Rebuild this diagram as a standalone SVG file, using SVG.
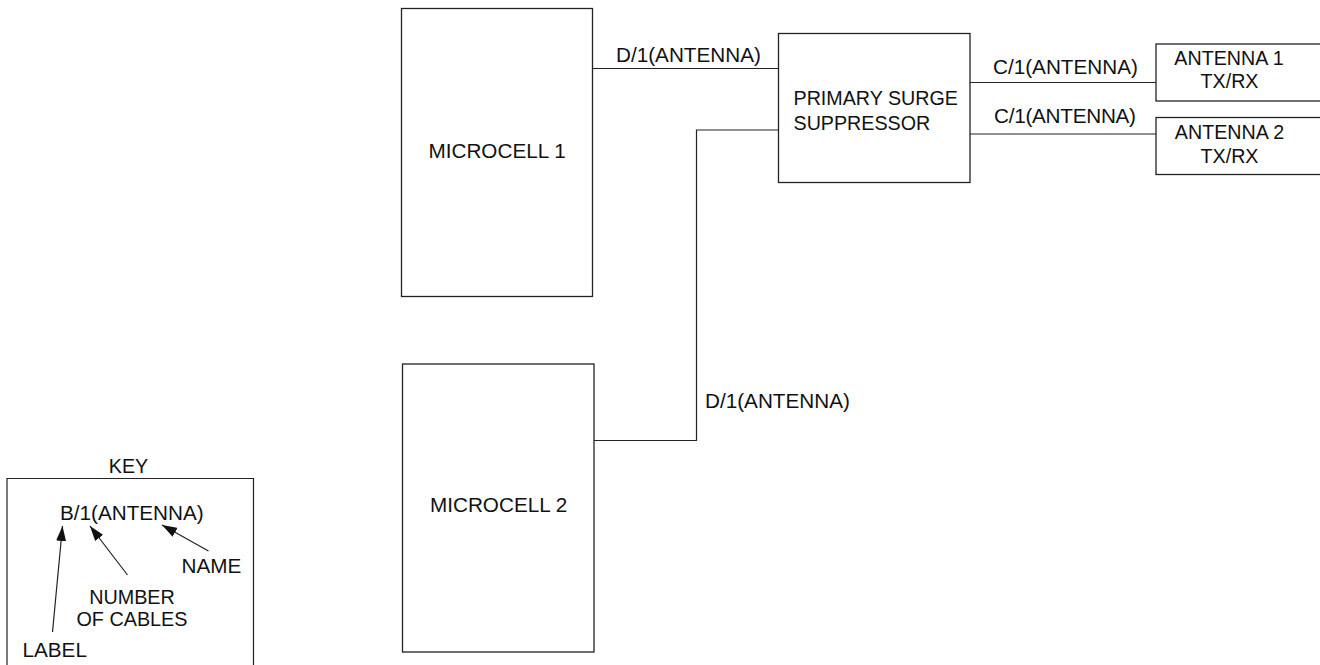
<svg xmlns="http://www.w3.org/2000/svg" width="1320" height="665" viewBox="0 0 1320 665">
<style>
.box{fill:#fff;stroke:#222;stroke-width:1.3}
.ln{fill:none;stroke:#222;stroke-width:1.2}
text{font-family:"Liberation Sans",Arial,sans-serif;font-size:20.7px;fill:#111}
.s{font-size:19.7px}
.k{font-size:19.8px}
.m{text-anchor:middle}
</style>
<defs>
<marker id="ah" markerWidth="16" markerHeight="10" refX="15" refY="5" orient="auto" markerUnits="userSpaceOnUse">
<path d="M0,0 L15,5 L0,10 Z" fill="#111"/>
</marker>
</defs>
<rect width="1320" height="665" fill="#fff"/>
<g id="connectors">
<polyline class="ln" points="593,68.5 778,68.5"/>
<polyline class="ln" points="594,440.5 696.5,440.5 696.5,130 778,130"/>
<polyline class="ln" points="970,82.5 1156,82.5"/>
<polyline class="ln" points="970,134 1156,134"/>
<text x="616" y="62">D/1(ANTENNA)</text>
<text x="705" y="408">D/1(ANTENNA)</text>
<text x="993" y="74">C/1(ANTENNA)</text>
<text x="994" y="123" textLength="142">C/1(ANTENNA)</text>
</g>
<g id="microcell1">
<rect class="box" x="401.5" y="8.5" width="191" height="288"/>
<text x="428.5" y="158">MICROCELL 1</text>
</g>
<g id="microcell2">
<rect class="box" x="402.5" y="364" width="191.5" height="288"/>
<text x="430" y="511.5">MICROCELL 2</text>
</g>
<g id="surge">
<rect class="box" x="778.5" y="33.5" width="191.5" height="149"/>
<text class="s" x="793.5" y="105">PRIMARY SURGE</text>
<text class="s" x="793.5" y="130">SUPPRESSOR</text>
</g>
<g id="antenna1">
<rect class="box" x="1156" y="44" width="180" height="57"/>
<text class="s m" x="1229" y="65">ANTENNA 1</text>
<text class="s m" x="1229.5" y="88">TX/RX</text>
</g>
<g id="antenna2">
<rect class="box" x="1156" y="117.5" width="180" height="57"/>
<text class="s m" x="1229.5" y="138.5">ANTENNA 2</text>
<text class="s m" x="1229.5" y="163">TX/RX</text>
</g>
<g id="key">
<text class="s m" x="128.5" y="472.5">KEY</text>
<polyline class="ln" points="7,670 7,478.5 253.5,478.5 253.5,670"/>
<text x="60" y="519.5">B/1(ANTENNA)</text>
<text x="181.5" y="573">NAME</text>
<text class="k m" x="132" y="604">NUMBER</text>
<text class="k m" x="132" y="625.5">OF CABLES</text>
<text x="22.5" y="656.5">LABEL</text>
<line class="ln" x1="52.5" y1="632" x2="62.5" y2="526" marker-end="url(#ah)"/>
<line class="ln" x1="127.5" y1="575" x2="90" y2="526" marker-end="url(#ah)"/>
<line class="ln" x1="208.5" y1="551" x2="162" y2="525" marker-end="url(#ah)"/>
</g>
</svg>
